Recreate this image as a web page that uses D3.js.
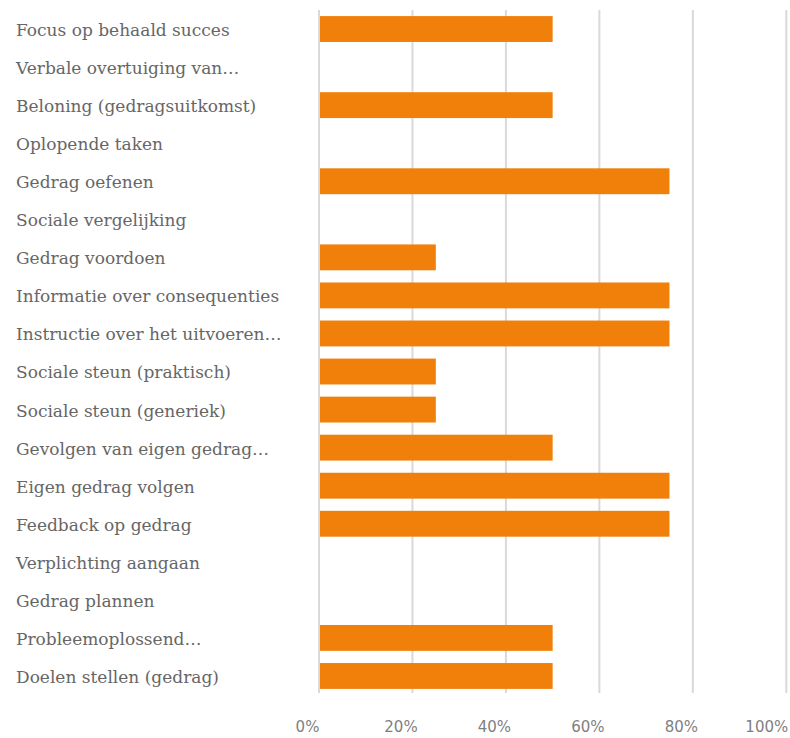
<!DOCTYPE html>
<html>
<head>
<meta charset="utf-8">
<script src="https://cdn.jsdelivr.net/npm/d3@7"></script>
<style>
  html, body { margin: 0; padding: 0; background: #fff; }
  svg { display: block; }
</style>
</head>
<body>
<svg id="chart" width="790" height="738"></svg>
<script>
// Behaviour change techniques and the share of items scoring on each
const categories = [
  "Focus op behaald succes",
  "Verbale overtuiging van…",
  "Beloning (gedragsuitkomst)",
  "Oplopende taken",
  "Gedrag oefenen",
  "Sociale vergelijking",
  "Gedrag voordoen",
  "Informatie over consequenties",
  "Instructie over het uitvoeren…",
  "Sociale steun (praktisch)",
  "Sociale steun (generiek)",
  "Gevolgen van eigen gedrag…",
  "Eigen gedrag volgen",
  "Feedback op gedrag",
  "Verplichting aangaan",
  "Gedrag plannen",
  "Probleemoplossend…",
  "Doelen stellen (gedrag)"
];
const values = [0.5, 0, 0.5, 0, 0.75, 0, 0.25, 0.75, 0.75, 0.25, 0.25, 0.5, 0.75, 0.75, 0, 0, 0.5, 0.5];
const tickValues = [0, 0.2, 0.4, 0.6, 0.8, 1.0];

const svg = d3.select("#chart");

const x = d3.scaleLinear().domain([0, 1]).range([319, 786.3]);
const y = d3.scaleBand().domain(categories).range([10, 695]).paddingInner(0.32).paddingOuter(0.16);

// vertical gridlines
svg.append("g")
  .selectAll("line")
  .data(tickValues)
  .join("line")
  .attr("x1", d => x(d)).attr("x2", d => x(d))
  .attr("y1", 10).attr("y2", 693)
  .attr("stroke", "#d9d9d9")
  .attr("stroke-width", 2);

// bars
svg.append("g")
  .selectAll("rect")
  .data(categories)
  .join("rect")
  .attr("x", x(0) + 1)
  .attr("y", d => y(d))
  .attr("height", y.bandwidth())
  .attr("width", (d, i) => Math.max(0, x(values[i]) - x(0) - 1))
  .attr("fill", "#f0800a");

// category labels
svg.append("g")
  .selectAll("text")
  .data(categories)
  .join("text")
  .attr("x", 16)
  .attr("y", d => y(d) + y.bandwidth() / 2 + 1)
  .attr("dy", "0.35em")
  .attr("font-family", "'DejaVu Serif', serif")
  .attr("font-size", 17)
  .attr("fill", "#666666")
  .text(d => d);

// x axis tick labels
const axis = d3.axisBottom(x).tickValues(tickValues).tickFormat(d3.format(".0%")).tickSize(0);
const gx = svg.append("g").attr("transform", "translate(0,720)").call(axis);
gx.select(".domain").remove();
gx.selectAll("text")
  .attr("dx", d => d === 1 ? -20 : -12)
  .attr("dy", 0)
  .attr("y", 12)
  .attr("font-family", "'DejaVu Sans', sans-serif")
  .attr("font-size", 15)
  .attr("fill", "#7f7f7f");
</script>
</body>
</html>
